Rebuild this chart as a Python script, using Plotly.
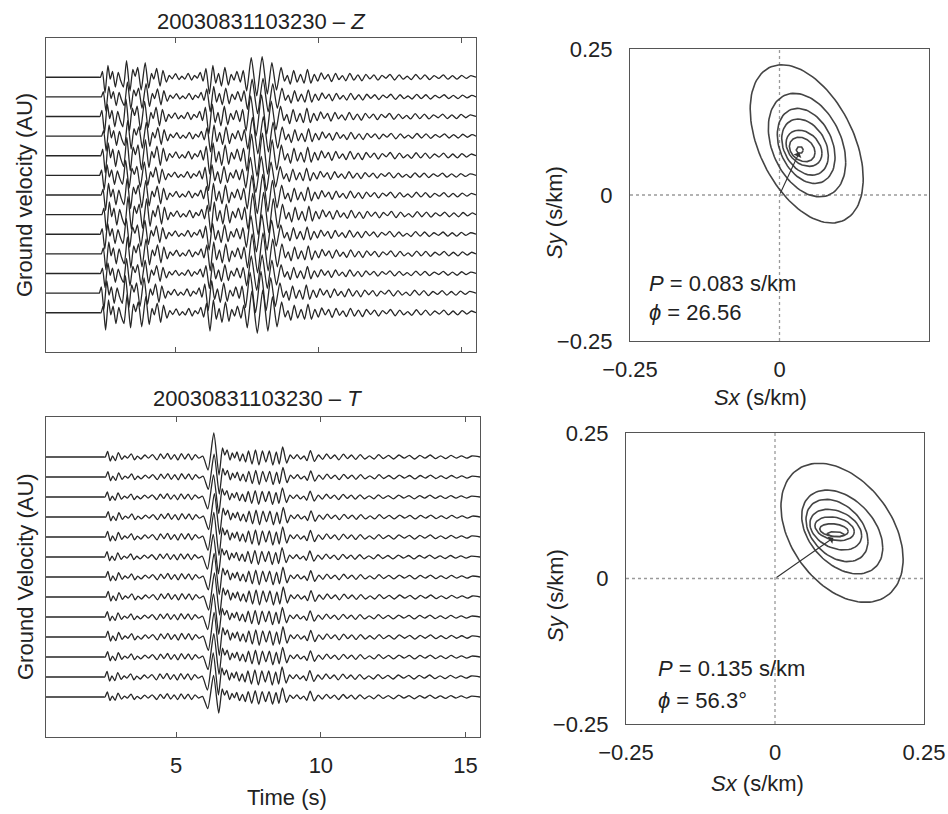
import numpy as np
import plotly.graph_objects as go

# ---------------- data ----------------
# Representative vertical-component (Z) waveform: extrema (time s, amplitude in trace-spacing units)
z_extrema = [
    (0.50, 0.00), (2.30, 0.00), (2.36, 0.00), (2.40, 0.00), (2.47, 0.30), (2.56, -0.80),
    (2.66, 0.60), (2.74, -0.10), (2.82, 0.30), (2.92, -0.50), (3.02, 0.25), (3.10, -0.15),
    (3.20, -0.50), (3.31, 0.85), (3.43, -0.70), (3.53, 0.40), (3.61, 0.05), (3.70, 0.50),
    (3.82, -0.65), (3.96, 0.75), (4.08, -0.55), (4.18, 0.20), (4.26, -0.10), (4.36, 0.45),
    (4.48, -0.45), (4.58, 0.35), (4.70, -0.25), (4.80, 0.10), (4.90, -0.08), (5.02, 0.18),
    (5.14, -0.12), (5.24, 0.05), (5.34, -0.10), (5.46, 0.20), (5.58, -0.15), (5.68, 0.10),
    (5.78, -0.05), (5.88, 0.25), (5.98, -0.20), (6.08, 0.45), (6.20, -0.85), (6.32, 0.60),
    (6.42, -0.30), (6.52, 0.20), (6.62, -0.45), (6.74, 0.50), (6.86, -0.40), (6.96, 0.15),
    (7.06, -0.15), (7.16, 0.30), (7.28, -0.25), (7.38, 0.35), (7.50, -0.70), (7.66, 1.00),
    (7.85, -0.95), (8.04, 1.05), (8.22, -0.85), (8.38, 0.75), (8.54, -0.65), (8.70, 0.50),
    (8.82, -0.20), (8.92, 0.10), (9.02, -0.35), (9.14, 0.35), (9.26, -0.25), (9.38, 0.15),
    (9.50, -0.30), (9.62, 0.40), (9.74, -0.30), (9.86, 0.15), (9.98, -0.20), (10.10, 0.22),
    (10.22, -0.10), (10.34, 0.15), (10.46, -0.22), (10.60, 0.20), (10.72, -0.12), (10.84, 0.08),
    (10.96, -0.18), (11.10, 0.20), (11.24, -0.15), (11.38, 0.12), (11.52, -0.18), (11.66, 0.15),
    (11.80, -0.08), (11.94, 0.12), (12.08, -0.15), (12.22, 0.10), (12.36, -0.05), (12.50, 0.15),
    (12.66, -0.14), (12.82, 0.12), (12.96, -0.10), (13.10, 0.05), (13.24, -0.12), (13.40, 0.14),
    (13.56, -0.10), (13.72, 0.12), (13.88, -0.12), (14.04, 0.08), (14.20, -0.06), (14.36, 0.12),
    (14.52, -0.10), (14.68, 0.08), (14.84, -0.10), (15.00, 0.10), (15.16, -0.06), (15.32, 0.08),
    (15.50, 0.00),
]

# Representative transverse-component (T) waveform
t_extrema = [
    (0.50, 0.00), (2.45, 0.00), (2.51, 0.00), (2.55, 0.00), (2.63, 0.28), (2.72, -0.20),
    (2.80, 0.05), (2.90, -0.18), (3.00, 0.22), (3.12, -0.12), (3.22, 0.05), (3.32, -0.06),
    (3.45, 0.16), (3.56, -0.14), (3.66, 0.04), (3.78, -0.10), (3.92, 0.10), (4.04, -0.06),
    (4.18, 0.12), (4.34, -0.14), (4.46, 0.15), (4.58, -0.08), (4.70, 0.18), (4.82, -0.12),
    (4.94, 0.12), (5.06, -0.15), (5.18, 0.17), (5.30, -0.10), (5.42, 0.16), (5.54, -0.14),
    (5.66, 0.12), (5.78, -0.06), (5.92, 0.04), (6.10, -0.65), (6.30, 1.20), (6.48, -0.90),
    (6.60, 0.45), (6.68, 0.10), (6.76, 0.35), (6.86, -0.15), (6.94, 0.20), (7.02, -0.05),
    (7.10, 0.25), (7.20, -0.20), (7.30, 0.15), (7.40, -0.25), (7.50, 0.30), (7.62, -0.35),
    (7.74, 0.35), (7.86, -0.40), (7.98, 0.30), (8.10, -0.25), (8.22, 0.30), (8.34, -0.40),
    (8.46, 0.25), (8.56, -0.35), (8.68, 0.50), (8.82, -0.30), (8.94, 0.10), (9.06, -0.08),
    (9.18, 0.12), (9.30, -0.10), (9.42, 0.05), (9.52, -0.18), (9.64, 0.32), (9.78, -0.22),
    (9.92, 0.10), (10.06, -0.12), (10.20, 0.15), (10.34, -0.08), (10.48, 0.10), (10.62, -0.14),
    (10.78, 0.14), (10.92, -0.08), (11.06, 0.10), (11.20, -0.12), (11.36, 0.12), (11.52, -0.10),
    (11.68, 0.06), (11.84, -0.10), (12.00, 0.12), (12.16, -0.08), (12.34, 0.08), (12.52, -0.10),
    (12.70, 0.10), (12.88, -0.06), (13.06, 0.08), (13.24, -0.10), (13.42, 0.08), (13.60, -0.06),
    (13.78, 0.10), (13.96, -0.08), (14.14, 0.06), (14.32, -0.08), (14.50, 0.08), (14.68, -0.06),
    (14.86, 0.06), (15.04, -0.06), (15.22, 0.05), (15.50, 0.00),
]

# 13 stations, plotted top to bottom
trace_baselines = [14, 13, 12, 11, 10, 9, 8, 7, 6, 5, 4, 3, 2]
z_shift = [0.00, 0.03, -0.02, 0.04, 0.01, -0.03, 0.02, 0.05, -0.01, 0.03, 0.00, -0.04, 0.02]
z_gain = [1.00, 0.90, 1.05, 0.95, 1.10, 0.92, 1.00, 1.08, 0.95, 1.02, 0.90, 1.05, 1.10]
t_shift = [0.00, 0.01, -0.01, 0.02, 0.00, -0.02, 0.01, 0.02, -0.01, 0.01, 0.00, -0.02, -0.01]
t_gain = [1.00, 0.95, 0.92, 0.97, 1.02, 0.94, 0.98, 1.00, 0.96, 1.03, 0.97, 1.00, 0.90]

time_ticks = [5, 10, 15]
slow_ticks = [-0.25, 0, 0.25]
slow_labels = ["\u22120.25", "0", "0.25"]

# Slowness-power contours (Z event): centre, half-extent in x and y, x-y correlation
cz_cx = [0.0455, 0.046, 0.0446, 0.0427, 0.041, 0.038, 0.034]
cz_cy = [0.0875, 0.0855, 0.084, 0.082, 0.080, 0.078, 0.077]
cz_wx = [0.0945, 0.0647, 0.0483, 0.039, 0.030, 0.0215, 0.006]
cz_wy = [0.1355, 0.0886, 0.0643, 0.048, 0.031, 0.021, 0.006]
cz_rho = [-0.44, -0.33, -0.30, -0.30, -0.28, -0.25, 0.0]
z_arrow_tip = (0.033, 0.073)
z_P, z_phi = "0.083", "26.56"

# Slowness-power contours (T event)
ct_cx = [0.1125, 0.1128, 0.104, 0.102, 0.100, 0.099, 0.102]
ct_cy = [0.0785, 0.080, 0.0825, 0.084, 0.0855, 0.083, 0.076]
ct_wx = [0.1025, 0.068, 0.052, 0.0434, 0.033, 0.024, 0.015]
ct_wy = [0.1195, 0.072, 0.0535, 0.035, 0.0205, 0.011, 0.0045]
ct_rho = [-0.38, -0.38, -0.35, -0.30, -0.25, -0.20, -0.20]
t_arrow_tip = (0.098, 0.070)
t_P, t_phi = "0.135", "56.3\u00b0"

# ---------------- styling ----------------
FONT = "Liberation Sans, Arial, sans-serif"
FS = 22
TXT = "#222222"
FRAME = "#555555"
WAVE = "#262626"
CONT = "#444444"
VERTS = [120, 100, 80, 60, 30, 16, 6]

fig = go.Figure()


def add_waves(extrema, shifts, gains, xa, ya):
    tt = [p[0] for p in extrema]
    aa = [p[1] for p in extrema]
    for k, base in enumerate(trace_baselines):
        t = np.array(tt, dtype=float)
        t[1:-1] = t[1:-1] + shifts[k]
        a = np.array(aa, dtype=float) * gains[k] + base
        fig.add_trace(go.Scatter(x=t, y=a, mode="lines", xaxis=xa, yaxis=ya,
                                 line=dict(color=WAVE, width=1.3, shape="spline", smoothing=0.6),
                                 hoverinfo="skip"))


add_waves(z_extrema, z_shift, z_gain, "x", "y")
add_waves(t_extrema, t_shift, t_gain, "x2", "y2")


def add_contours(cx, cy, wx, wy, rho, xa, ya):
    # dotted zero lines
    fig.add_trace(go.Scatter(x=[-0.25, 0.25], y=[0, 0], mode="lines", xaxis=xa, yaxis=ya,
                             line=dict(color="#9a9a9a", width=1.3, dash="dot"), hoverinfo="skip"))
    fig.add_trace(go.Scatter(x=[0, 0], y=[-0.25, 0.25], mode="lines", xaxis=xa, yaxis=ya,
                             line=dict(color="#9a9a9a", width=1.3, dash="dot"), hoverinfo="skip"))
    for i in range(len(cx)):
        th = np.linspace(0, 2 * np.pi, VERTS[i] + 1)
        x = cx[i] + wx[i] * np.cos(th)
        y = cy[i] + wy[i] * (rho[i] * np.cos(th) + np.sqrt(1 - rho[i] ** 2) * np.sin(th))
        fig.add_trace(go.Scatter(x=x, y=y, mode="lines", xaxis=xa, yaxis=ya,
                                 line=dict(color=CONT, width=1.6), hoverinfo="skip"))


add_contours(cz_cx, cz_cy, cz_wx, cz_wy, cz_rho, "x3", "y3")
add_contours(ct_cx, ct_cy, ct_wx, ct_wy, ct_rho, "x4", "y4")

W, H = 948, 814


def px_dom(a, b, total):
    return [a / total, b / total]


def py_dom(top, bot):
    return [1 - bot / H, 1 - top / H]


frame = dict(showline=True, linecolor=FRAME, linewidth=1.2, mirror=True, showgrid=False,
             zeroline=False, automargin=False)

wave_x = dict(frame, range=[0.5, 15.5], tickvals=time_ticks, ticks="inside", ticklen=5,
              tickcolor=FRAME, tickwidth=1)
wave_y = dict(frame, range=[0, 16], showticklabels=False, ticks="")

slow_x = dict(frame, range=[-0.25, 0.25], tickvals=slow_ticks, ticktext=slow_labels, ticks="",
              tickfont=dict(family=FONT, size=FS, color=TXT), ticklabelstandoff=8)
slow_y = dict(frame, range=[-0.25, 0.25], tickvals=slow_ticks, ticktext=slow_labels, ticks="",
              tickfont=dict(family=FONT, size=FS, color=TXT), ticklabelstandoff=12)

fig.update_layout(
    width=W, height=H, margin=dict(l=0, r=0, t=0, b=0, autoexpand=False),
    paper_bgcolor="white", plot_bgcolor="white", showlegend=False,
    font=dict(family=FONT, size=FS, color=TXT),
    xaxis=dict(wave_x, domain=px_dom(46, 476, W), showticklabels=False, mirror="allticks",
               anchor="y"),
    yaxis=dict(wave_y, domain=py_dom(38, 352), anchor="x"),
    xaxis2=dict(wave_x, domain=px_dom(46, 480, W), mirror="allticks", anchor="y2",
                tickfont=dict(family=FONT, size=FS, color=TXT), ticklabelstandoff=8),
    yaxis2=dict(wave_y, domain=py_dom(417, 737), anchor="x2"),
    xaxis3=dict(slow_x, domain=px_dom(630, 929, W), anchor="y3"),
    yaxis3=dict(slow_y, domain=py_dom(49, 341), anchor="x3"),
    xaxis4=dict(slow_x, domain=px_dom(626, 924, W), anchor="y4"),
    yaxis4=dict(slow_y, domain=py_dom(433, 724), anchor="x4"),
)

ann = []


def paper_text(text, x, y, angle=0, xanchor="center"):
    ann.append(dict(text=text, x=x / W, y=1 - y / H, xref="paper", yref="paper",
                    showarrow=False, textangle=angle, xanchor=xanchor, yanchor="middle",
                    font=dict(family=FONT, size=FS, color=TXT)))


paper_text("20030831103230 \u2013 <i>Z</i>", 261, 22)
paper_text("20030831103230 \u2013 <i>T</i>", 257, 398)
paper_text("Ground velocity (AU)", 25, 195, angle=-90)
paper_text("Ground Velocity (AU)", 25, 577, angle=-90)
paper_text("Time (s)", 287, 797)
paper_text("<i>Sy</i> (s/km)", 555, 213, angle=-90)
paper_text("<i>Sy</i> (s/km)", 555, 596, angle=-90)
paper_text("<i>Sx</i> (s/km)", 760, 397)
paper_text("<i>Sx</i> (s/km)", 757, 783)


def data_text(text, x, y, xa, ya):
    ann.append(dict(text=text, x=x, y=y, xref=xa, yref=ya, showarrow=False,
                    xanchor="left", yanchor="middle",
                    font=dict(family=FONT, size=FS, color=TXT)))


data_text("<i>P</i> = %s s/km" % z_P, -0.222, -0.151, "x3", "y3")
data_text("<i>\u03d5</i> = %s" % z_phi, -0.222, -0.202, "x3", "y3")
data_text("<i>P</i> = %s s/km" % t_P, -0.200, -0.154, "x4", "y4")
data_text("<i>\u03d5</i> = %s" % t_phi, -0.200, -0.209, "x4", "y4")

for tip, xa, ya in [(z_arrow_tip, "x3", "y3"), (t_arrow_tip, "x4", "y4")]:
    ann.append(dict(text="", x=tip[0], y=tip[1], ax=0, ay=0, xref=xa, yref=ya,
                    axref=xa, ayref=ya, showarrow=True, arrowhead=1, arrowsize=1.3,
                    arrowwidth=1.1, arrowcolor="#333333"))

fig.update_layout(annotations=ann)
fig.write_html("out.html", config={"displayModeBar": False},
               post_script="document.body.style.margin='0';document.body.style.overflow='hidden';")
